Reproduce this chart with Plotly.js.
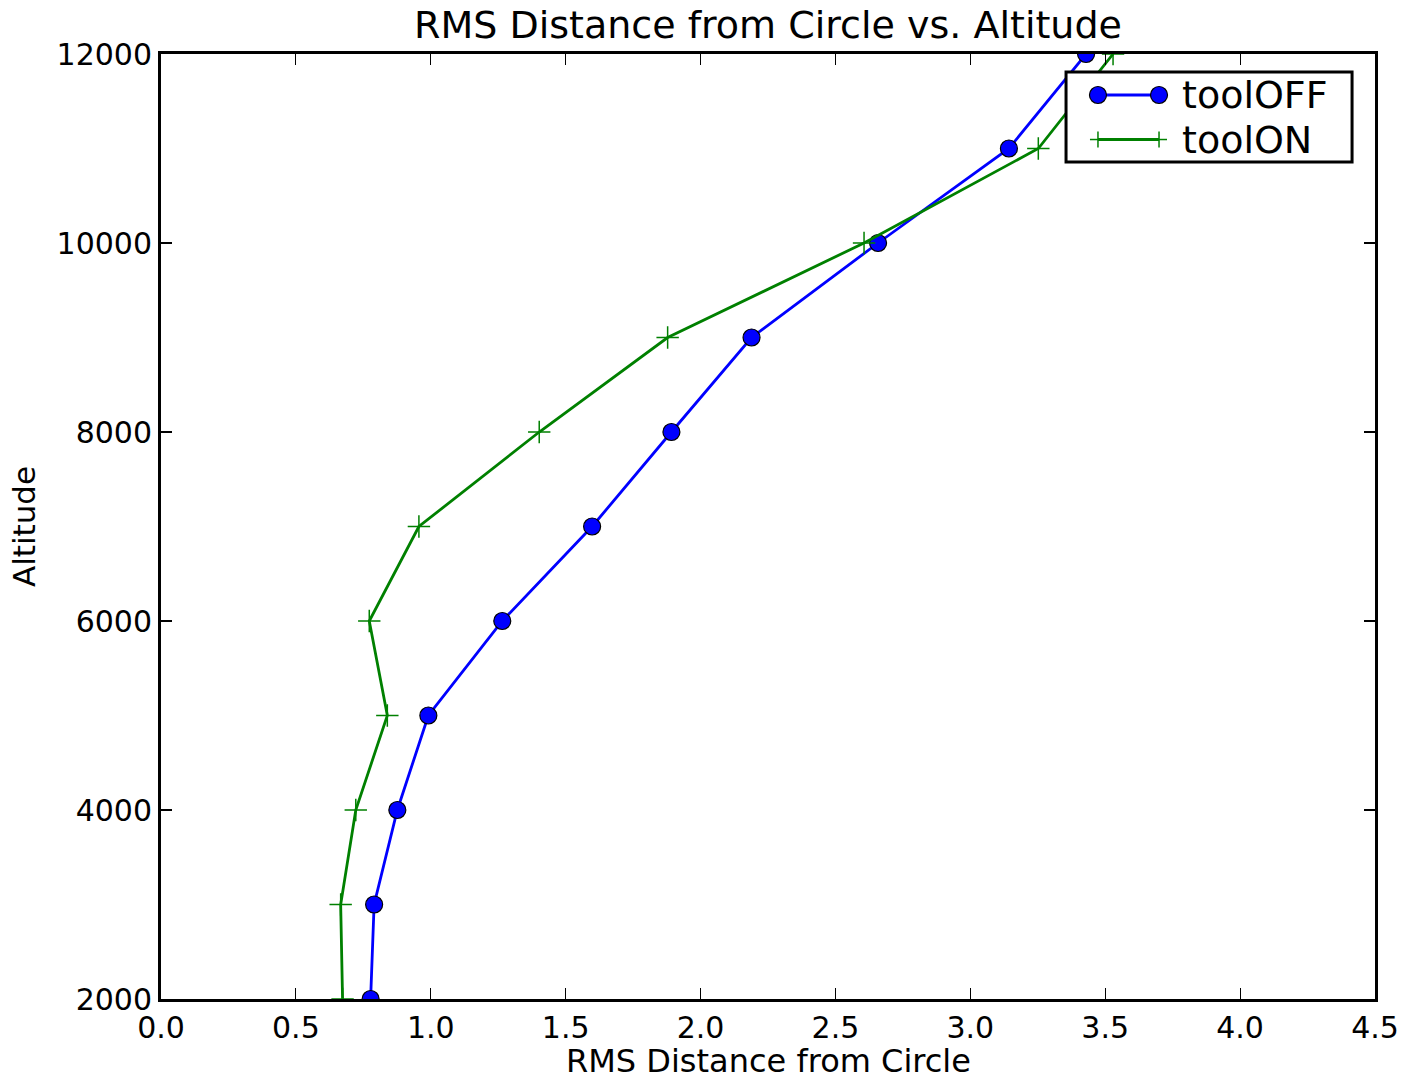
<!DOCTYPE html>
<html>
<head>
<meta charset="utf-8">
<script src="https://cdn.plot.ly/plotly-3.0.1.min.js"></script>
<style>html,body{margin:0;padding:0;background:#fff;}#chart{width:1404px;height:1076px;}</style>
</head>
<body>
<div id="chart"></div>
<script>
const altitude = [2000, 3000, 4000, 5000, 6000, 7000, 8000, 9000, 10000, 11000, 12000];
const toolOFF = [0.777, 0.790, 0.876, 0.991, 1.265, 1.598, 1.892, 2.189, 2.658, 3.143, 3.429];
const toolON = [0.673, 0.666, 0.722, 0.839, 0.772, 0.956, 1.402, 1.878, 2.606, 3.252, 3.529];
const xTicks = [0, 0.5, 1.0, 1.5, 2.0, 2.5, 3.0, 3.5, 4.0, 4.5];
const xTickText = ['0.0', '0.5', '1.0', '1.5', '2.0', '2.5', '3.0', '3.5', '4.0', '4.5'];
const yTicks = [2000, 4000, 6000, 8000, 10000, 12000];
const seriesNames = ['toolOFF', 'toolON'];

const FONT = 'DejaVu Sans, sans-serif';
const BLUE = '#0000ff', GREEN = '#008000';

const traces = [
  {
    x: toolOFF, y: altitude, name: seriesNames[0], type: 'scatter', mode: 'lines+markers',
    line: {color: BLUE, width: 2.8},
    marker: {symbol: 'circle', size: 17, color: BLUE, line: {color: '#000000', width: 1.2}}
  },
  {
    x: toolON, y: altitude, name: seriesNames[1], type: 'scatter', mode: 'lines+markers',
    line: {color: GREEN, width: 2.8},
    marker: {symbol: 'cross-thin', size: 16, color: GREEN, line: {color: GREEN, width: 1.5}}
  }
];

const axisCommon = {
  showline: true, linecolor: '#000', linewidth: 3, mirror: 'allticks',
  ticks: 'inside', ticklen: 11, tickwidth: 1.2, tickcolor: '#000',
  showgrid: false, zeroline: false,
  tickfont: {family: FONT, size: 30, color: '#000'}
};

// Legend box (matplotlib-style) built from shapes + annotations, in paper coordinates
const lg = {x0: 0.7455, x1: 0.9811, y0: 0.8857, y1: 0.9810,
            rows: [0.9566, 0.9095], lx0: 0.7718, lx1: 0.8221, tx: 0.8395};
const shapes = [
  {type: 'rect', xref: 'paper', yref: 'paper', x0: lg.x0, x1: lg.x1, y0: lg.y0, y1: lg.y1,
   fillcolor: '#fff', line: {color: '#000', width: 3}, layer: 'above'}
];
const annotations = [];
seriesNames.forEach((nm, i) => {
  const yy = lg.rows[i];
  const col = i === 0 ? BLUE : GREEN;
  shapes.push({type: 'line', xref: 'paper', yref: 'paper', x0: lg.lx0, x1: lg.lx1, y0: yy, y1: yy,
               line: {color: col, width: 2.8}, layer: 'above'});
  [lg.lx0, lg.lx1].forEach(xx => {
    if (i === 0) {
      shapes.push({type: 'circle', xref: 'paper', yref: 'paper', xsizemode: 'pixel', ysizemode: 'pixel',
                   xanchor: xx, yanchor: yy, x0: -8.5, x1: 8.5, y0: -8.5, y1: 8.5,
                   fillcolor: BLUE, line: {color: '#000', width: 1.2}, layer: 'above'});
    } else {
      shapes.push({type: 'line', xref: 'paper', yref: 'paper', xsizemode: 'pixel', ysizemode: 'pixel',
                   xanchor: xx, yanchor: yy, x0: -8, x1: 8, y0: 0, y1: 0,
                   line: {color: GREEN, width: 1.5}, layer: 'above'});
      shapes.push({type: 'line', xref: 'paper', yref: 'paper', xsizemode: 'pixel', ysizemode: 'pixel',
                   xanchor: xx, yanchor: yy, x0: 0, x1: 0, y0: -8, y1: 8,
                   line: {color: GREEN, width: 1.5}, layer: 'above'});
    }
  });
  annotations.push({xref: 'paper', yref: 'paper', x: lg.tx, y: yy, xanchor: 'left', yanchor: 'middle',
                    text: nm, showarrow: false, font: {family: FONT, size: 38, color: '#000'}});
});

// x-axis title placed as an annotation below the tick labels
annotations.push({xref: 'paper', yref: 'paper', x: 0.5, y: -0.0655, xanchor: 'center', yanchor: 'middle',
                  text: 'RMS Distance from Circle', showarrow: false, borderpad: 0,
                  font: {family: FONT, size: 32, color: '#000'}});

const layout = {
  width: 1404, height: 1076,
  margin: {l: 161, r: 29, t: 54, b: 77},
  paper_bgcolor: '#fff', plot_bgcolor: '#fff',
  font: {family: FONT, color: '#000'},
  title: {text: 'RMS Distance from Circle vs. Altitude', font: {family: FONT, size: 38, color: '#000'},
          x: 0.5, xref: 'paper', y: 0.977, yanchor: 'middle'},
  xaxis: Object.assign({}, axisCommon, {
    range: [0, 4.5], tickvals: xTicks, ticktext: xTickText
  }),
  yaxis: Object.assign({}, axisCommon, {
    range: [2000, 12000], tickvals: yTicks, ticktext: yTicks.map(String),
    title: {text: 'Altitude', font: {family: FONT, size: 31, color: '#000'}, standoff: 12}
  }),
  showlegend: false,
  shapes: shapes,
  annotations: annotations
};

Plotly.newPlot('chart', traces, layout, {displayModeBar: false, staticPlot: true});
</script>
</body>
</html>
